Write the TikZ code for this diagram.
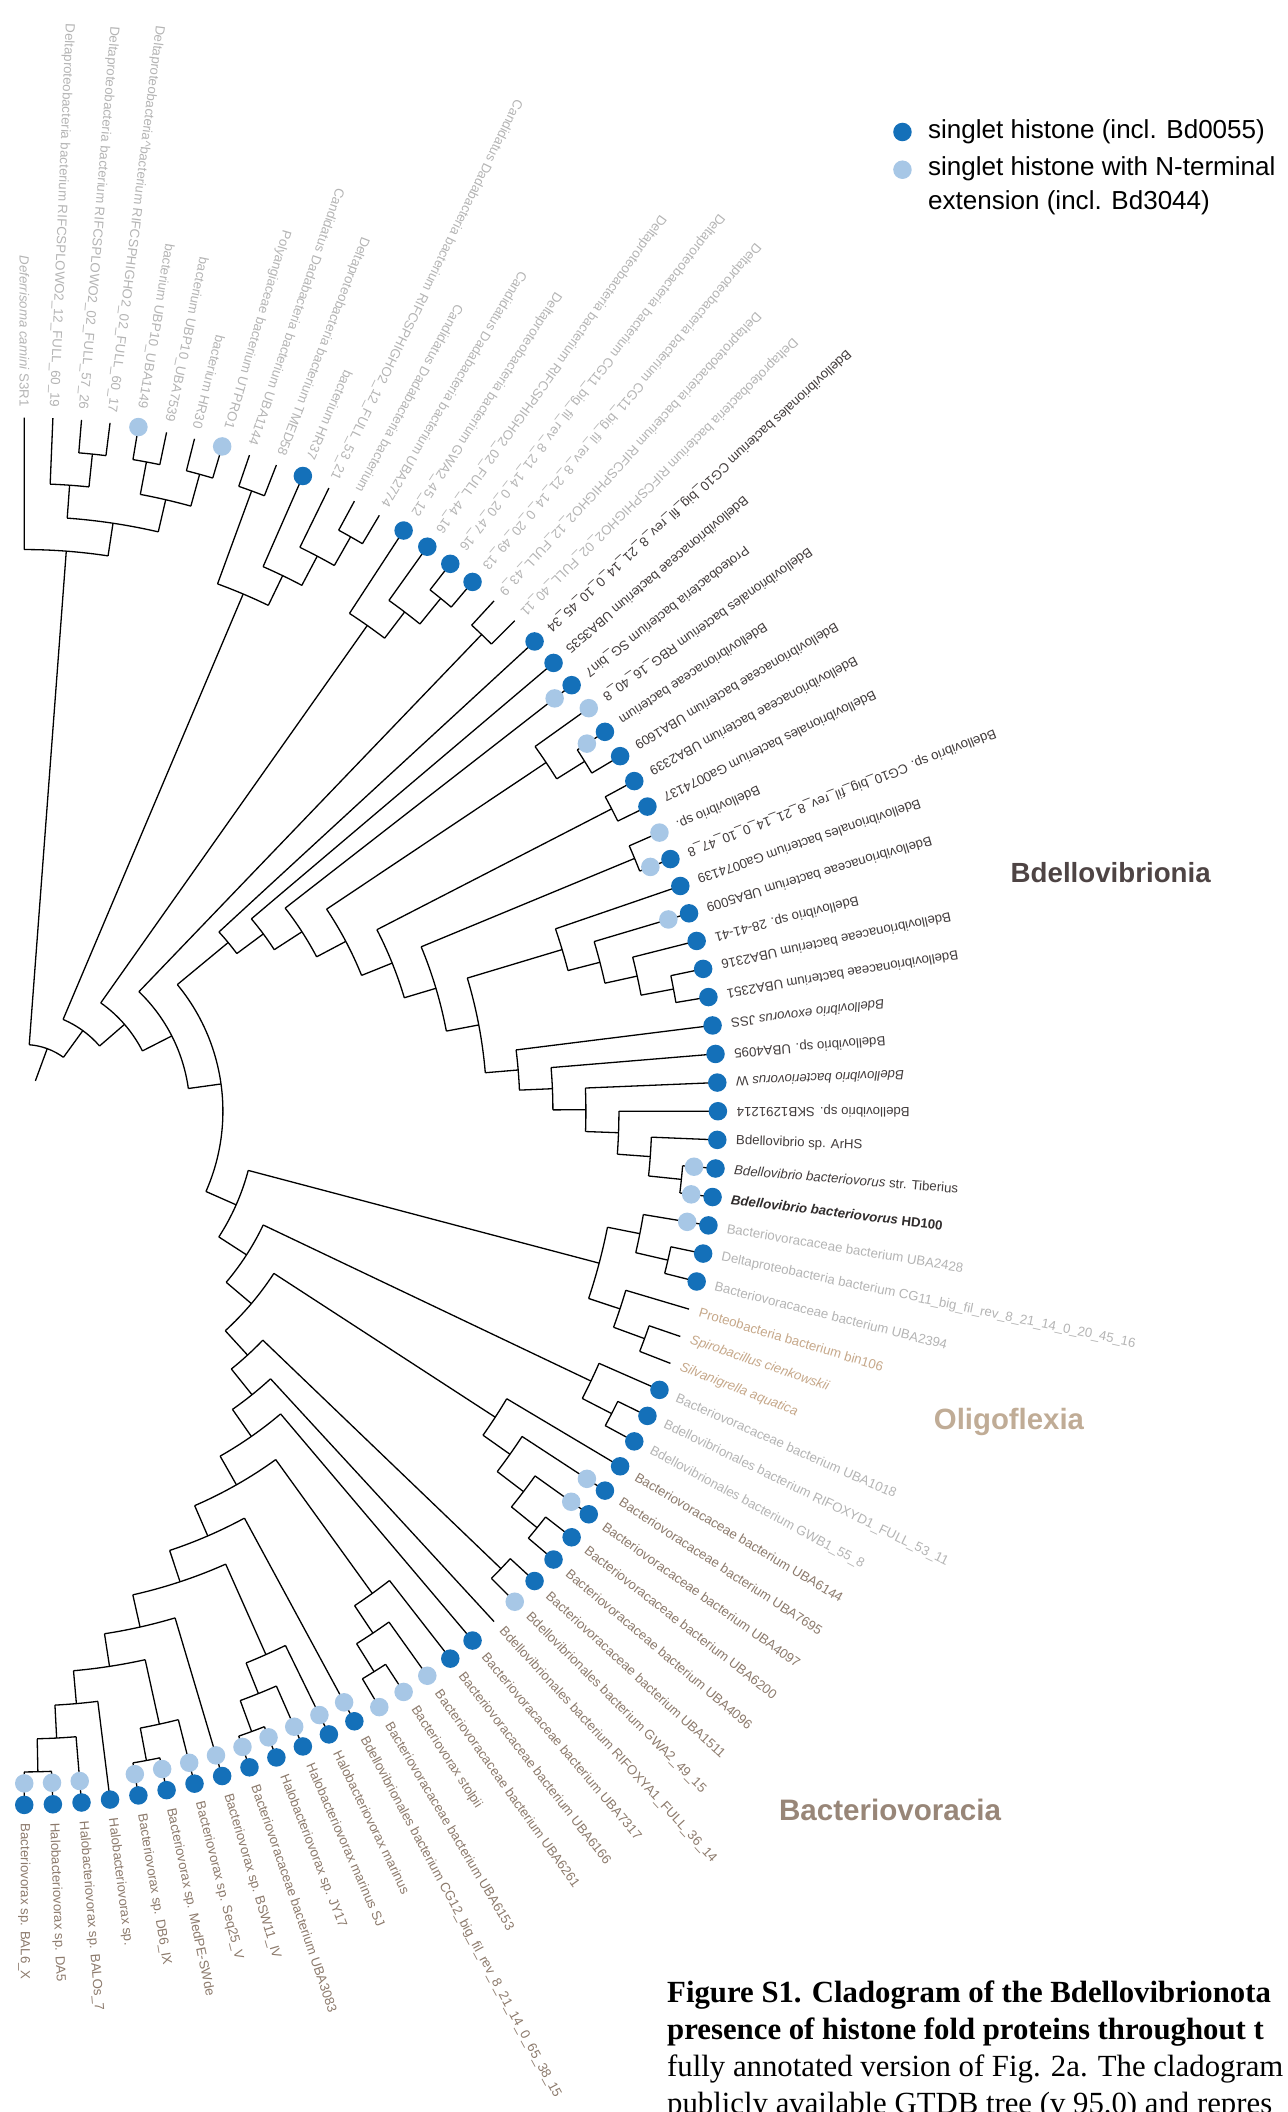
\documentclass[tikz,border=0pt]{standalone}
\usepackage{fontspec}
\setmainfont{Liberation Serif}
\setsansfont{Liberation Sans}
\usepackage{xcolor}
\usetikzlibrary{positioning}

\definecolor{histdark}{RGB}{20,112,185}
\definecolor{histlight}{RGB}{167,199,230}
\definecolor{og}{RGB}{180,180,180}
\definecolor{bd}{RGB}{66,60,60}
\definecolor{hd}{RGB}{48,44,44}
\definecolor{ol}{RGB}{198,168,138}
\definecolor{bv}{RGB}{140,122,108}
\definecolor{bdellolab}{RGB}{78,68,68}
\definecolor{oligolab}{RGB}{192,172,150}
\definecolor{bactlab}{RGB}{152,134,120}

% 半径 (cm)
\newcommand\tipR{10.3}
\newcommand\stepR{0.49}
\newcommand\innerR{9.98}
\newcommand\labR{10.58}
\newcommand\labRn{10.46}

% 分支: 名称, 子节点1, 子节点2
\newcommand\clade[3]{%
  \edef\kA{\csname a@#2\endcsname}%
  \edef\kB{\csname a@#3\endcsname}%
  \pgfmathsetmacro\kM{(\kA+\kB)/2}%
  \pgfmathtruncatemacro\kH{max(\csname h@#2\endcsname,\csname h@#3\endcsname)+1}%
  \pgfmathsetmacro\kR{\tipR-\kH*\stepR}%
  \expandafter\xdef\csname a@#1\endcsname{\kM}%
  \expandafter\xdef\csname h@#1\endcsname{\kH}%
  \coordinate (#1) at (\kM:\kR);
  \coordinate (#1a) at (\kA:\kR);
  \coordinate (#1b) at (\kB:\kR);
  \draw[branch] (#1a) arc[start angle=\kA, end angle=\kB, radius=\kR cm];
  \draw[branch] (#1a) -- (#2) (#1b) -- (#3);
}

% 组蛋白标记
\newcommand\histdotn[1]{}
\newcommand\histdotd[1]{\node[darkdot] (D#1) at (L#1) {};}
\newcommand\histdotl[1]{\node[lightdot] (E#1) at (L#1) {};}
\newcommand\histdotb[1]{\node[lightdot] (E#1) at (\csname a@L#1\endcsname:\innerR) {};
  \node[darkdot] (D#1) at (L#1) {};}

\begin{document}
\begin{tikzpicture}[
    branch/.style={draw=black, line width=0.55pt},
    lab/.style={font=\sffamily\fontsize{5.6}{6.7}\selectfont, inner sep=0pt, outer sep=0pt},
    darkdot/.style={circle, fill=histdark, inner sep=0pt, minimum size=2.75mm},
    lightdot/.style={circle, fill=histlight, inner sep=0pt, minimum size=2.75mm},
    keytext/.style={font=\sffamily\fontsize{11}{14.2}\selectfont, inner sep=0pt, align=left},
    grouplab/.style={inner sep=0pt, anchor=west},
    caption/.style={font=\rmfamily\fontsize{13}{15.65}\selectfont, inner sep=0pt, align=left, anchor=north west}
]
\useasboundingbox (0,0) rectangle (19.12,-31.36);

\begin{scope}[shift={(0.36,-16.5)}]
% 叶节点
\foreach \ix in {1,...,77}{
  \pgfmathsetmacro\la{90-(\ix-1)*180/76}
  \expandafter\xdef\csname a@L\ix\endcsname{\la}
  \expandafter\xdef\csname h@L\ix\endcsname{0}
  \coordinate (L\ix) at (\la:\tipR);
}

% 外类群
\clade{c34}{L3}{L4}
\clade{c234}{L2}{c34}
\clade{c56}{L5}{L6}
\clade{c78}{L7}{L8}
\clade{c58}{c56}{c78}
\clade{c28}{c234}{c58}
\clade{c18}{L1}{c28}
\clade{c910}{L9}{L10}
\clade{c1314}{L13}{L14}
\clade{c1214}{L12}{c1314}
\clade{c1114}{L11}{c1214}
\clade{c914}{c910}{c1114}
\clade{c1718}{L17}{L18}
\clade{c1618}{L16}{c1718}
\clade{c1518}{L15}{c1618}
\clade{c1920}{L19}{L20}

% Bdellovibrionia
\clade{c4142}{L41}{L42}
\clade{c4042}{L40}{c4142}
\clade{c3942}{L39}{c4042}
\clade{c3842}{L38}{c3942}
\clade{c3742}{L37}{c3842}
\clade{c3642}{L36}{c3742}
\clade{c3435}{L34}{L35}
\clade{c3335}{L33}{c3435}
\clade{c3235}{L32}{c3335}
\clade{c3135}{L31}{c3235}
\clade{c3142}{c3135}{c3642}
\clade{c2930}{L29}{L30}
\clade{c2942}{c2930}{c3142}
\clade{c2728}{L27}{L28}
\clade{c2742}{c2728}{c2942}
\clade{c2526}{L25}{L26}
\clade{c2426}{L24}{c2526}
\clade{c2442}{c2426}{c2742}
\clade{c2342}{L23}{c2442}
\clade{c2242}{L22}{c2342}
\clade{c2142}{L21}{c2242}

% Oligoflexia
\clade{c4445}{L44}{L45}
\clade{c4345}{L43}{c4445}
\clade{c4748}{L47}{L48}
\clade{c4648}{L46}{c4748}
\clade{c4348}{c4345}{c4648}
\clade{c5051}{L50}{L51}
\clade{c4951}{L49}{c5051}

% Bacteriovoracia
\clade{c5556}{L55}{L56}
\clade{c5456}{L54}{c5556}
\clade{c5356}{L53}{c5456}
\clade{c5256}{L52}{c5356}
\clade{c5758}{L57}{L58}
\clade{c6364}{L63}{L64}
\clade{c6264}{L62}{c6364}
\clade{c6164}{L61}{c6264}
\clade{c6869}{L68}{L69}
\clade{c6769}{L67}{c6869}
\clade{c6669}{L66}{c6769}
\clade{c7273}{L72}{L73}
\clade{c7173}{L71}{c7273}
\clade{c7677}{L76}{L77}
\clade{c7577}{L75}{c7677}
\clade{c7477}{L74}{c7577}
\clade{c7177}{c7173}{c7477}

% 主干
\clade{c7077}{L70}{c7177}
\clade{c6677}{c6669}{c7077}
\clade{c6577}{L65}{c6677}
\clade{c6177}{c6164}{c6577}
\clade{c6077}{L60}{c6177}
\clade{c5977}{L59}{c6077}
\clade{c5777}{c5758}{c5977}
\clade{c5277}{c5256}{c5777}
\clade{c4977}{c4951}{c5277}
\clade{c4377}{c4348}{c4977}
\clade{c2177}{c2142}{c4377}
\clade{c1977}{c1920}{c2177}
\clade{c1577}{c1518}{c1977}
\clade{c977}{c914}{c1577}
\clade{root}{c18}{c977}
\coordinate (rootend) at (\csname a@root\endcsname:0.48);
\draw[branch] (root) -- (rootend);

% 标记与名称
\foreach \ix/\dk/\lk/\tx in {
  1/n/og/{\textit{Deferrisoma camini} S3R1},
  2/n/og/{Deltaproteobacteria bacterium RIFCSPLOWO2\_12\_FULL\_60\_19},
  3/n/og/{Deltaproteobacteria bacterium RIFCSPLOWO2\_02\_FULL\_57\_26},
  4/n/og/{Deltaproteobacteria\textasciicircum bacterium RIFCSPHIGHO2\_02\_FULL\_60\_17},
  5/l/og/{bacterium UBP10\_UBA1149},
  6/n/og/{bacterium UBP10\_UBA7539},
  7/n/og/{bacterium HR30},
  8/l/og/{Polyangiaceae bacterium UTPRO1},
  9/n/og/{Candidatus Dadabacteria bacterium UBA1144},
  10/n/og/{Deltaproteobacteria bacterium TMED58},
  11/d/og/{bacterium HR37},
  12/n/og/{Candidatus Dadabacteria bacterium RIFCSPHIGHO2\_12\_FULL\_53\_21},
  13/n/og/{Candidatus Dadabacteria bacterium},
  14/n/og/{Candidatus Dadabacteria bacterium UBA2774},
  15/d/og/{Deltaproteobacteria bacterium GWA2\_45\_12},
  16/d/og/{Deltaproteobacteria bacterium RIFCSPHIGHO2\_02\_FULL\_44\_16},
  17/d/og/{Deltaproteobacteria bacterium CG11\_big\_fil\_rev\_8\_21\_14\_0\_20\_47\_16},
  18/d/og/{Deltaproteobacteria bacterium CG11\_big\_fil\_rev\_8\_21\_14\_0\_20\_49\_13},
  19/n/og/{Deltaproteobacteria bacterium RIFCSPHIGHO2\_12\_FULL\_43\_9},
  20/n/og/{Deltaproteobacteria bacterium RIFCSPHIGHO2\_02\_FULL\_40\_11},
  21/d/bd/{Bdellovibrionales bacterium CG10\_big\_fil\_rev\_8\_21\_14\_0\_10\_45\_34},
  22/d/bd/{Bdellovibrionaceae bacterium UBA3535},
  23/b/bd/{Proteobacteria bacterium SG\_bin7},
  24/l/bd/{Bdellovibrionales bacterium RBG\_16\_40\_8},
  25/b/bd/{Bdellovibrionaceae bacterium},
  26/d/bd/{Bdellovibrionaceae bacterium UBA1609},
  27/d/bd/{Bdellovibrionaceae bacterium UBA2339},
  28/d/bd/{Bdellovibrionales bacterium Ga0074137},
  29/l/bd/{Bdellovibrio sp.},
  30/b/bd/{Bdellovibrio sp. CG10\_big\_fil\_rev\_8\_21\_14\_0\_10\_47\_8},
  31/d/bd/{Bdellovibrionales bacterium Ga0074139},
  32/b/bd/{Bdellovibrionaceae bacterium UBA5009},
  33/d/bd/{Bdellovibrio sp. 28-41-41},
  34/d/bd/{Bdellovibrionaceae bacterium UBA2316},
  35/d/bd/{Bdellovibrionaceae bacterium UBA2351},
  36/d/bd/{\textit{Bdellovibrio exovorus} JSS},
  37/d/bd/{Bdellovibrio sp. UBA4095},
  38/d/bd/{\textit{Bdellovibrio bacteriovorus} W},
  39/d/bd/{Bdellovibrio sp. SKB1291214},
  40/d/bd/{Bdellovibrio sp. ArHS},
  41/b/bd/{\textit{Bdellovibrio bacteriovorus} str. Tiberius},
  42/b/hd/{\textbf{\textit{Bdellovibrio bacteriovorus} HD100}},
  43/b/og/{Bacteriovoracaceae bacterium UBA2428},
  44/d/og/{Deltaproteobacteria bacterium CG11\_big\_fil\_rev\_8\_21\_14\_0\_20\_45\_16},
  45/d/og/{Bacteriovoracaceae bacterium UBA2394},
  46/n/ol/{Proteobacteria bacterium bin106},
  47/n/ol/{\textit{Spirobacillus cienkowskii}},
  48/n/ol/{\textit{Silvanigrella aquatica}},
  49/d/og/{Bacteriovoracaceae bacterium UBA1018},
  50/d/og/{Bdellovibrionales bacterium RIFOXYD1\_FULL\_53\_11},
  51/d/og/{Bdellovibrionales bacterium GWB1\_55\_8},
  52/d/bv/{Bacteriovoracaceae bacterium UBA6144},
  53/b/bv/{Bacteriovoracaceae bacterium UBA7695},
  54/b/bv/{Bacteriovoracaceae bacterium UBA4097},
  55/d/bv/{Bacteriovoracaceae bacterium UBA6200},
  56/d/bv/{Bacteriovoracaceae bacterium UBA4096},
  57/d/bv/{Bacteriovoracaceae bacterium UBA1511},
  58/l/bv/{Bdellovibrionales bacterium GWA2\_49\_15},
  59/n/bv/{Bdellovibrionales bacterium RIFOXYA1\_FULL\_36\_14},
  60/d/bv/{Bacteriovoracaceae bacterium UBA7317},
  61/d/bv/{Bacteriovoracaceae bacterium UBA6166},
  62/l/bv/{Bacteriovoracaceae bacterium UBA6261},
  63/l/bv/{Bacteriovorax stolpii},
  64/l/bv/{Bacteriovoracaceae bacterium UBA6153},
  65/b/bv/{Bdellovibrionales bacterium CG12\_big\_fil\_rev\_8\_21\_14\_0\_65\_38\_15},
  66/b/bv/{Halobacteriovorax marinus},
  67/b/bv/{Halobacteriovorax marinus SJ},
  68/b/bv/{Halobacteriovorax sp. JY17},
  69/b/bv/{Bacteriovoracaceae bacterium UBA3083},
  70/b/bv/{Bacteriovorax sp. BSW11\_IV},
  71/b/bv/{Bacteriovorax sp. Seq25\_V},
  72/b/bv/{Bacteriovorax sp. MedPE-SWde},
  73/b/bv/{Bacteriovorax sp. DB6\_IX},
  74/d/bv/{Halobacteriovorax sp.},
  75/b/bv/{Halobacteriovorax sp. BALOs\_7},
  76/b/bv/{Halobacteriovorax sp. DA5},
  77/b/bv/{Bacteriovorax sp. BAL6\_X}}{
  \pgfmathsetmacro\la{\csname a@L\ix\endcsname}
  \csname histdot\dk\endcsname{\ix}
  \if n\dk \def\lr{\labRn}\else \def\lr{\labR}\fi
  \ifnum\ix<40
    \node[lab, text=\lk, rotate=\la+180, anchor=east] (T\ix) at (\la:\lr) {\tx};
  \else
    \node[lab, text=\lk, rotate=\la, anchor=west] (T\ix) at (\la:\lr) {\tx};
  \fi
}
\end{scope}

% 图例
\node[darkdot] (key1) at (13.4,-1.96) {};
\node[keytext, right=0.23cm of key1] (keytext1) {singlet histone (incl. Bd0055)};
\node[lightdot] (key2) at (13.4,-2.52) {};
\node[keytext, right=0.23cm of key2, yshift=-0.24cm] (keytext2) {singlet histone with N-terminal\\extension (incl. Bd3044)};

% 类群名称
\node[grouplab, text=bdellolab, font=\sffamily\bfseries\fontsize{11.7}{14}\selectfont] (bdelloname) at (15.0,-12.96) {Bdellovibrionia};
\node[grouplab, text=oligolab, font=\sffamily\bfseries\fontsize{12.4}{14}\selectfont] (oligoname) at (13.86,-21.12) {Oligoflexia};
\node[grouplab, text=bactlab, font=\sffamily\bfseries\fontsize{12.5}{14}\selectfont] (bactname) at (11.56,-26.88) {Bacteriovoracia};

% 图注
\node[caption] (figcap) at (9.9,-29.40) {\textbf{Figure S1. Cladogram of the Bdellovibrionota}\\
  \textbf{presence of histone fold proteins throughout t}\\
  fully annotated version of Fig. 2a. The cladogram\\
  publicly available GTDB tree (v 95.0) and repres};

\end{tikzpicture}
\end{document}
